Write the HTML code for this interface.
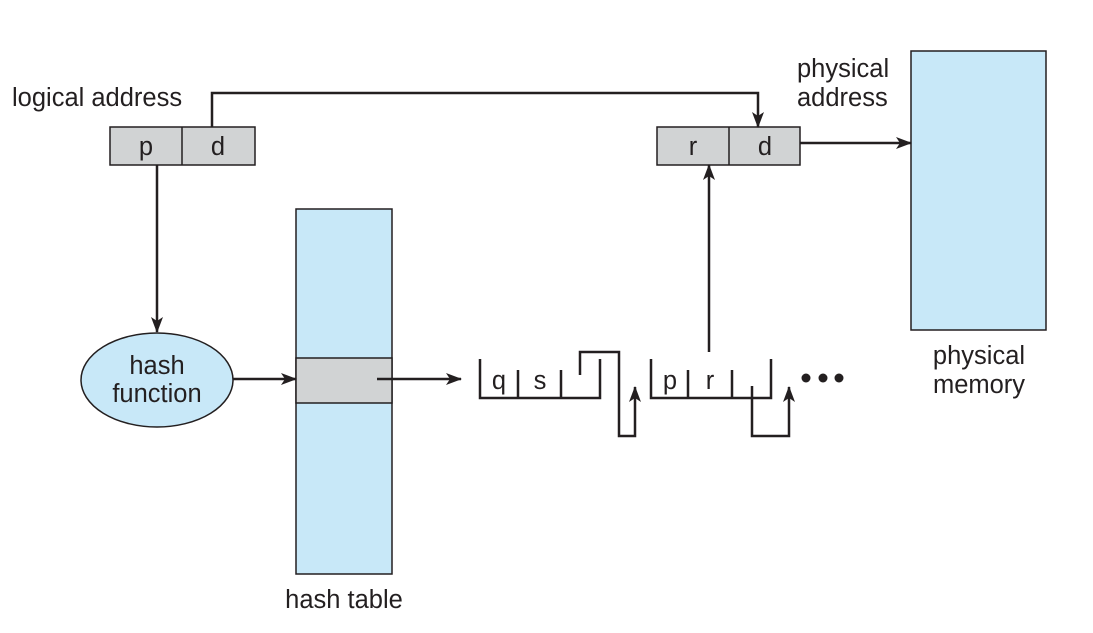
<!DOCTYPE html>
<html><head><style>body{margin:0;background:#fff}svg{display:block}text{font-family:"Liberation Sans",sans-serif;font-size:25.5px;fill:#231f20}</style></head><body>
<svg width="1093" height="633" viewBox="0 0 1093 633">
<defs><marker id="b" markerWidth="16" markerHeight="16" refX="15" refY="8" orient="auto" markerUnits="userSpaceOnUse"><path d="M0,2 L16,8 L0,14 L4,8 z" fill="#231f20"/></marker></defs>
<g stroke="#231f20" stroke-width="1.5">
<rect x="110" y="127" width="145" height="38" fill="#d1d3d4"/><line x1="182" y1="127" x2="182" y2="165"/>
<rect x="657" y="127" width="143" height="38" fill="#d1d3d4"/><line x1="729" y1="127" x2="729" y2="165"/>
<rect x="911" y="51" width="135" height="279" fill="#c8e8f8"/>
<rect x="296" y="209" width="96" height="365" fill="#c8e8f8"/>
<rect x="296" y="358" width="96" height="45" fill="#d1d3d4"/>
<ellipse cx="157" cy="380" rx="76" ry="47" fill="#c8e8f8"/>
</g>
<g stroke="#231f20" stroke-width="2.5" fill="none">
<path d="M212,127 V93 H758 V127" marker-end="url(#b)"/>
<path d="M800,143 H911" marker-end="url(#b)"/>
<path d="M157,165 V332" marker-end="url(#b)"/>
<path d="M233,379 H296" marker-end="url(#b)"/>
<path d="M377,379 H461" marker-end="url(#b)"/>
<path d="M709,352 V165" marker-end="url(#b)"/>
<path d="M480,359 V398 H600 V359 M518,370 V398 M561,370 V398"/>
<path d="M580,375 V352 H619 V436 H635 V387" marker-end="url(#b)"/>
<path d="M651,359 V398 H771 V359 M688,370 V398 M732,370 V398"/>
<path d="M752,386 V436 H789 V387" marker-end="url(#b)"/>
</g>
<g fill="#231f20"><circle cx="806" cy="378" r="4.5"/><circle cx="823" cy="378" r="4.5"/><circle cx="839" cy="378" r="4.5"/></g>
<text x="12" y="106">logical address</text>
<text x="146" y="155" text-anchor="middle">p</text><text x="218" y="155" text-anchor="middle">d</text>
<text x="693" y="155" text-anchor="middle">r</text><text x="765" y="155" text-anchor="middle">d</text>
<text x="797" y="77">physical</text><text x="797" y="106">address</text>
<text x="979" y="364" text-anchor="middle">physical</text><text x="979" y="393" text-anchor="middle">memory</text>
<text x="157" y="374" text-anchor="middle">hash</text><text x="157" y="402" text-anchor="middle">function</text>
<text x="344" y="608" text-anchor="middle">hash table</text>
<text x="499" y="389" text-anchor="middle">q</text><text x="540" y="389" text-anchor="middle">s</text>
<text x="670" y="389" text-anchor="middle">p</text><text x="710" y="389" text-anchor="middle">r</text>
</svg></body></html>
